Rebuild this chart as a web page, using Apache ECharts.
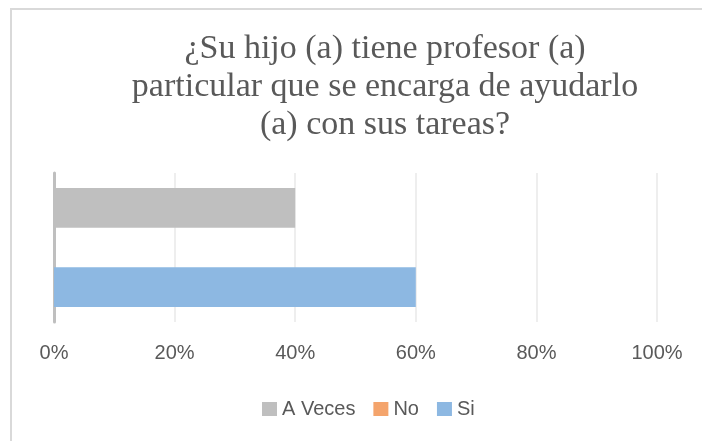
<!DOCTYPE html>
<html>
<head>
<meta charset="utf-8">
<script src="https://cdn.jsdelivr.net/npm/echarts@6/dist/echarts.min.js"></script>
<style>
  html, body { margin: 0; padding: 0; background: #fff; }
  #main { width: 702px; height: 441px; }
</style>
</head>
<body>
<div id="main"></div>
<script>
var titulo = '¿Su hijo (a) tiene profesor (a)\nparticular que se encarga de ayudarlo\n(a) con sus tareas?';
var categorias = [''];
var respuestas = ['A Veces', 'No', 'Si'];
var porcentajes = [40, 0, 60];
var colores = ['#bfbfbf', '#f4a46c', '#8db8e2'];
var ticks = [0, 20, 40, 60, 80, 100];

var myChart = echarts.init(document.getElementById('main'));
var option;

var series = respuestas.map(function (nombre, i) {
    return {
        name: nombre,
        type: 'bar',
        data: [porcentajes[i]],
        barGap: '0%',
        barCategoryGap: '20%',
        itemStyle: { color: colores[i] }
    };
});

option = {
    animation: false,
    graphic: [{
        type: 'rect',
        shape: { x: 11, y: 9, width: 720, height: 460 },
        style: { fill: 'none', stroke: '#d9d9d9', lineWidth: 2 },
        silent: true
    }],
    title: {
        text: titulo,
        left: 385,
        top: 30,
        textAlign: 'center',
        padding: 0,
        textStyle: {
            fontFamily: 'Liberation Serif',
            fontWeight: 'normal',
            fontSize: 34,
            lineHeight: 38,
            color: '#595959'
        }
    },
    legend: {
        data: respuestas,
        left: 257,
        top: 394,
        itemWidth: 15,
        itemHeight: 14,
        itemGap: 18,
        icon: 'rect',
        textStyle: { fontFamily: 'Liberation Sans', fontSize: 20, color: '#595959' }
    },
    grid: { left: 54, right: 45, top: 173, height: 149, containLabel: false },
    xAxis: {
        type: 'value',
        min: ticks[0],
        max: ticks[ticks.length - 1],
        interval: 20,
        axisLine: { show: false },
        axisTick: { show: false },
        splitLine: { lineStyle: { color: '#e8e8e8', width: 1.5 } },
        axisLabel: {
            formatter: '{value}%',
            margin: 21,
            fontFamily: 'Liberation Sans',
            fontSize: 20,
            color: '#595959'
        }
    },
    yAxis: {
        type: 'category',
        data: categorias,
        axisLine: { lineStyle: { color: '#bfbfbf', width: 3 } },
        axisTick: { show: false },
        axisLabel: { show: false }
    },
    series: series
};

option && myChart.setOption(option);
</script>
</body>
</html>
